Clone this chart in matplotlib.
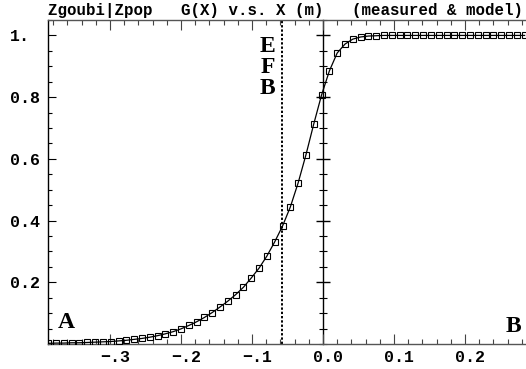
import matplotlib
matplotlib.use('Agg')
import matplotlib.pyplot as plt
from matplotlib.ticker import MultipleLocator, FixedLocator
from matplotlib.transforms import ScaledTranslation

# measured G(X) points (x in m)
x_meas = [-0.387, -0.376, -0.365, -0.354, -0.343, -0.332, -0.321, -0.310,
          -0.299, -0.288, -0.277, -0.266, -0.255, -0.244, -0.233, -0.222,
          -0.211, -0.200, -0.189, -0.178, -0.167, -0.156, -0.145, -0.134,
          -0.123, -0.112, -0.101, -0.090, -0.079, -0.068, -0.057, -0.046,
          -0.035, -0.024, -0.013, -0.002, 0.009, 0.020, 0.031, 0.042,
          0.053, 0.064, 0.075, 0.086, 0.097, 0.108, 0.119, 0.130,
          0.141, 0.152, 0.163, 0.174, 0.185, 0.196, 0.207, 0.218,
          0.229, 0.240, 0.251, 0.262, 0.273, 0.284]
g_meas = [0.002, 0.003, 0.003, 0.004, 0.004, 0.005, 0.006, 0.007,
          0.008, 0.010, 0.012, 0.015, 0.018, 0.022, 0.027, 0.033,
          0.040, 0.049, 0.060, 0.072, 0.086, 0.102, 0.120, 0.139,
          0.160, 0.184, 0.214, 0.246, 0.285, 0.331, 0.382, 0.444,
          0.522, 0.613, 0.713, 0.807, 0.885, 0.943, 0.972, 0.988,
          0.995, 0.998, 0.999, 1.000, 1.000, 1.000, 1.000, 1.000,
          1.000, 1.000, 1.000, 1.000, 1.000, 1.000, 1.000, 1.000,
          1.000, 1.000, 1.000, 1.000, 1.000, 1.000]

x_ticks = [-0.3, -0.2, -0.1, 0.0, 0.1, 0.2]
x_ticklabels = ['\u2212.3', '\u2212.2', '\u2212.1', '0.0', '0.1', '0.2']
y_ticks = [0.2, 0.4, 0.6, 0.8, 1.0]
y_ticklabels = ['0.2', '0.4', '0.6', '0.8', '1.']
x_efb = -0.058
title = 'Zgoubi|Zpop   G(X) v.s. X (m)   (measured & model)'

W, H = 526, 369
xmin, xmax = -0.3873, 0.30
ymin, ymax = 0.0, 1.05
fig = plt.figure(figsize=(W / 100, H / 100), dpi=100)
left_px, right_px = 48, 48 + (xmax - xmin) * 710
top_px, bot_px = 20, 344
ax = fig.add_axes([left_px / W, 1 - bot_px / H, (right_px - left_px) / W, (bot_px - top_px) / H])

mono = {'family': 'Liberation Mono', 'weight': 'bold'}

ax.plot(x_meas, g_meas, color='black', lw=0.9, zorder=3)
ax.plot(x_meas, g_meas, ls='none', marker='s', ms=5, mfc='none', mec='black', mew=0.8, zorder=4)
ax.axvline(x_efb, color='black', lw=1.4, ls=(0, (1.2, 1.0)), zorder=2)

ax.set_xlim(xmin, xmax)
ax.set_ylim(ymin, ymax)

ax.xaxis.set_major_locator(FixedLocator(x_ticks))
ax.set_xticklabels(x_ticklabels, fontdict=mono, fontsize=12)
ax.xaxis.set_minor_locator(MultipleLocator(0.02))
ax.yaxis.set_major_locator(FixedLocator(y_ticks))
ax.set_yticklabels(y_ticklabels, fontdict=mono, fontsize=12, ha='left')
ax.yaxis.set_minor_locator(MultipleLocator(0.05))

ax.tick_params(axis='x', which='major', direction='in', length=7, width=0.8, top=True, pad=4.5, color='#444444')
ax.tick_params(axis='x', which='minor', direction='in', length=3.5, width=0.8, top=True, color='#444444')
ax.tick_params(axis='y', which='major', direction='in', length=6, width=0.8, pad=27.5)
ax.tick_params(axis='y', which='minor', direction='in', length=3, width=0.8)
shift = ScaledTranslation(5 / 100, 0, fig.dpi_scale_trans)
for lab in ax.get_xticklabels():
    lab.set_transform(lab.get_transform() + shift)

for s in ['top', 'bottom']:
    ax.spines[s].set_color('#555555')
    ax.spines[s].set_linewidth(1.0)
ax.spines['left'].set_linewidth(1.0)
ax.spines['right'].set_visible(False)

# vertical axis through x = 0 with crossing ticks
zero_frac = (0 - xmin) / (xmax - xmin)
sec = ax.secondary_yaxis(zero_frac)
sec.yaxis.set_major_locator(FixedLocator(y_ticks))
sec.yaxis.set_minor_locator(MultipleLocator(0.05))
sec.tick_params(which='major', direction='inout', length=10, width=1.0, labelleft=False, labelright=False)
sec.tick_params(which='minor', direction='inout', length=6, width=0.8)
sec.set_yticklabels([])
sec.spines['left'].set_linewidth(1.0)
sec.spines['right'].set_linewidth(1.0)

fig.text(left_px / W, 1 - 15.5 / H, title, fontdict=mono, fontsize=11.3, va='baseline', ha='left')

serif = {'family': 'Liberation Serif', 'weight': 'bold', 'size': 17}
for k, letter in enumerate(['E', 'F', 'B']):
    ax.text(x_efb - 0.009, 0.963 - 0.068 * k, letter, fontdict=serif, ha='right', va='center')
ax.text(0.02, 0.065, 'A', fontdict=serif, ha='left', va='center', transform=ax.transAxes)
ax.text(1 - 5 / W, 1 - 326 / H, 'B', fontdict=serif, ha='right', va='center', transform=fig.transFigure)

fig.savefig('out.png', dpi=100)
